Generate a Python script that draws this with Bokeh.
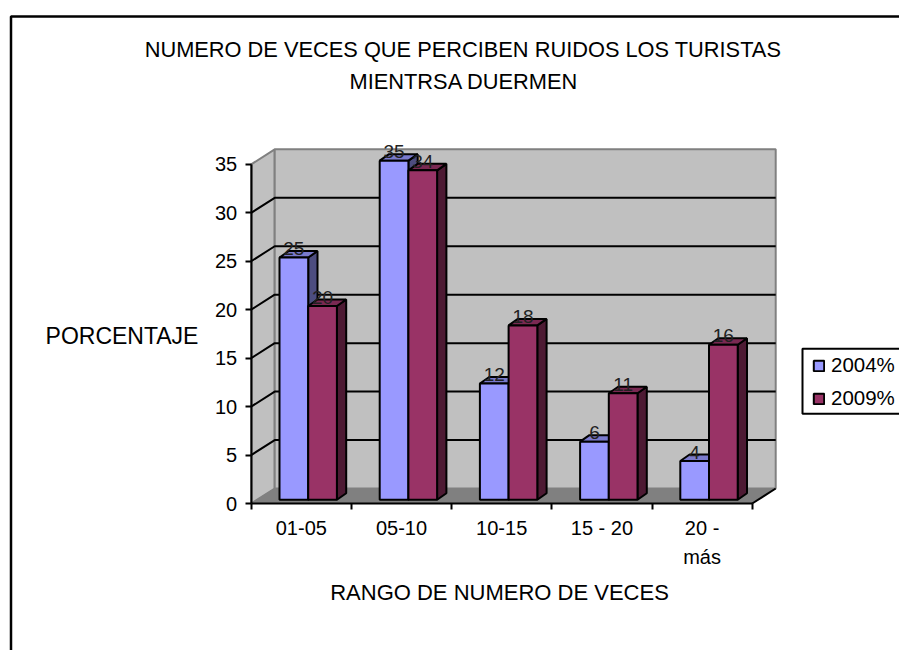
from bokeh.plotting import figure
from bokeh.models import FixedTicker, Legend, LegendItem
from bokeh.core.properties import value
from bokeh.embed import file_html
from bokeh.resources import INLINE

categories = ["01-05", "05-10", "10-15", "15 - 20", "20 -\nmás"]
series_2004 = [25, 35, 12, 6, 4]
series_2009 = [20, 34, 18, 11, 16]
y_ticks = [0, 5, 10, 15, 20, 25, 30, 35]
title_lines = ["NUMERO DE VECES QUE PERCIBEN RUIDOS LOS TURISTAS", "MIENTRSA DUERMEN"]
x_title = "RANGO DE NUMERO DE VECES"
y_title = "PORCENTAJE"

FONT = "Liberation Sans"
W, H = 899, 650
PX_ORIGIN, PY_ORIGIN = 250.7, 503.0   # page pixel of data (0, 0)
PX_PER_CAT, PX_PER_VAL = 100.2, 9.69


def X(px):
    return (px - PX_ORIGIN) / PX_PER_CAT


def Y(py):
    return (PY_ORIGIN - py) / PX_PER_VAL


p = figure(width=W, height=H, output_backend="svg", toolbar_location=None,
           x_range=(X(0), X(W)), y_range=(Y(H), Y(0)),
           min_border=0, min_border_left=0, min_border_right=0,
           min_border_top=0, min_border_bottom=0,
           background_fill_color="white", border_fill_color="white")
p.grid.visible = False
p.outline_line_color = None

# chart frame (top and left sides are the visible ones)
p.line([X(10.5), X(10.5), X(950)], [Y(700), Y(16), Y(16)], line_color="black", line_width=2.5)

# 3D walls
n = len(categories)
top = max(y_ticks)
WDX = 23.5 / PX_PER_CAT
WDY = 15.0 / PX_PER_VAL
p.patch([0, WDX, WDX, 0], [top, top + WDY, WDY, 0], fill_color="#C0C0C0",
        line_color="#808080", line_width=2)
p.patch([WDX, n + WDX, n + WDX, WDX], [WDY, WDY, top + WDY, top + WDY], fill_color="#C0C0C0",
        line_color="#808080", line_width=2)
p.patch([0, WDX, n + WDX, n], [0, WDY, WDY, 0], fill_color="#808080",
        line_color="#808080", line_width=1)
p.line([n, n + WDX], [0, WDY], line_color="black", line_width=2)

# gridlines on side wall and back wall
inner = [t for t in y_ticks if 0 < t < top]
p.multi_line([[0, WDX, n + WDX] for t in inner], [[t, t + WDY, t + WDY] for t in inner],
             line_color="black", line_width=2)

# bars
BAR_W = 28.7 / PX_PER_CAT
BAR_X0 = 28.3 / PX_PER_CAT
BASE = 3.7 / PX_PER_VAL
BDX = 9.3 / PX_PER_CAT
BDY = 6.5 / PX_PER_VAL


def draw_bars(vals, k, front, top_c, side_c):
    lefts = [i + BAR_X0 + k * BAR_W for i in range(n)]
    rights = [l + BAR_W for l in lefts]
    tops = [v + BASE for v in vals]
    p.patches([[r, r + BDX, r + BDX, r] for r in rights],
              [[BASE, BASE + BDY, t + BDY, t] for t in tops],
              fill_color=side_c, line_color="black", line_width=2)
    p.patches([[l, l + BDX, r + BDX, r] for l, r in zip(lefts, rights)],
              [[t, t + BDY, t + BDY, t] for t in tops],
              fill_color=top_c, line_color="black", line_width=2)
    return p.quad(left=lefts, right=rights, bottom=[BASE] * n, top=tops,
                  fill_color=front, line_color="black", line_width=2)


r04 = draw_bars(series_2004, 0, "#9999FF", "#7A7ACC", "#4D4D80")
r09 = draw_bars(series_2009, 1, "#993366", "#7A2952", "#4D1A33")

# data labels
for k, vals in enumerate((series_2004, series_2009)):
    p.text([i + BAR_X0 + (k + 0.5) * BAR_W for i in range(n)], [v + BASE + 8.8 / PX_PER_VAL for v in vals],
           text=[str(v) for v in vals], text_font=value(FONT), text_font_size="19px",
           text_color="#222222", text_align="center", text_baseline="middle")

# axes on the front plane
ax = p.xaxis[0]
ay = p.yaxis[0]
ax.fixed_location = 0
ay.fixed_location = 0
ay.bounds = (0, top)
ax.bounds = (0, n)
ax.ticker = FixedTicker(ticks=[i + 0.5 for i in range(n)], minor_ticks=list(range(n + 1)))
ax.major_label_overrides = {i + 0.5: c.split("\n")[0] for i, c in enumerate(categories)}
ax.major_tick_line_color = None
ax.minor_tick_in = 0
ax.minor_tick_out = 6
ax.minor_tick_line_color = "black"
ax.minor_tick_line_width = 2
ax.major_label_standoff = 7
ay.ticker = FixedTicker(ticks=y_ticks)
ay.major_tick_in = 0
ay.major_tick_out = 6
ay.minor_tick_out = 0
ay.minor_tick_in = 0
ay.major_tick_line_color = "black"
ay.major_tick_line_width = 2
ay.major_label_standoff = 8
for a in (ax, ay):
    a.axis_line_color = "black"
    a.axis_line_width = 2
    a.major_label_text_font = FONT
    a.major_label_text_font_size = "20px"
    a.major_label_text_color = "black"

# second line of the last category label
extra = [(i + 0.5, c.split("\n")[1]) for i, c in enumerate(categories) if "\n" in c]
p.text([e[0] for e in extra], [Y(556)] * len(extra), text=[e[1] for e in extra], text_font=value(FONT),
       text_font_size="20px", text_color="black", text_align="center", text_baseline="middle")

# titles
p.text([X(462.5), X(463.5)], [Y(49), Y(81)], text=title_lines, text_font=value(FONT),
       text_font_size="21.8px", text_color="black", text_align="center", text_baseline="middle")
p.text([X(121.5)], [Y(335)], text=[y_title], text_font=value(FONT), text_font_size="23px",
       text_color="black", text_align="center", text_baseline="middle")
p.text([X(499)], [Y(592)], text=[x_title], text_font=value(FONT), text_font_size="22px",
       text_color="black", text_align="center", text_baseline="middle")

# legend box (runs past the right edge, as in the reference) and legend
p.quad(left=[X(802)], right=[X(950)], bottom=[Y(413.3)], top=[Y(348.3)],
       fill_color="white", line_color="black", line_width=2)
legend = Legend(items=[LegendItem(label="2004%", renderers=[r04]), LegendItem(label="2009%", renderers=[r09])],
                location=(812, H - 410), orientation="vertical",
                border_line_color=None, background_fill_alpha=0,
                padding=0, spacing=9, margin=0,
                glyph_width=13, glyph_height=13, label_standoff=6, label_height=16,
                label_text_font=FONT, label_text_font_size="20.5px", label_text_color="black")
p.add_layout(legend)

open("out.html", "w").write(file_html(p, INLINE))
